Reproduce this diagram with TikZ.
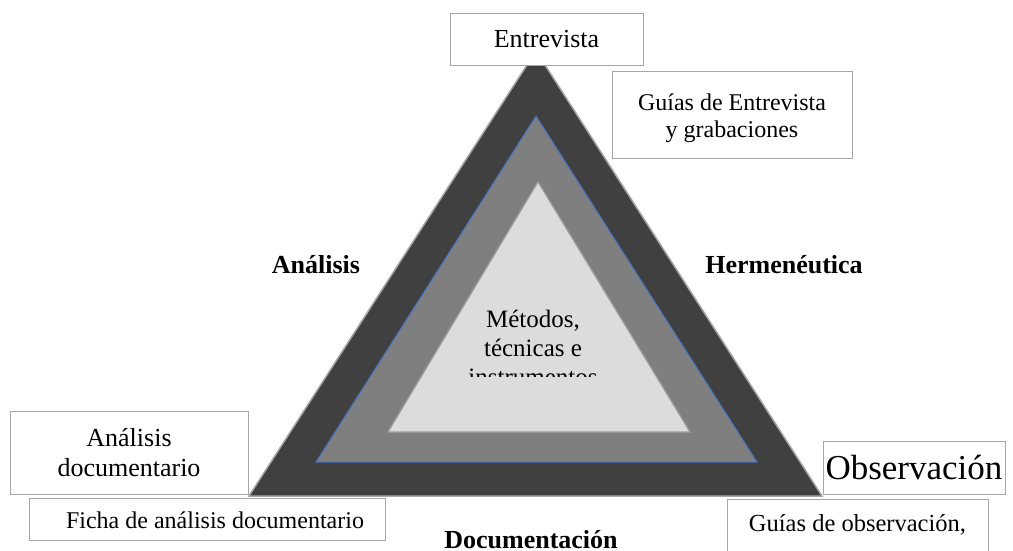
\documentclass[tikz,border=0pt]{standalone}
\usepackage{fontspec}
\setmainfont{Liberation Serif}
\definecolor{outerfill}{HTML}{404040}
\definecolor{outeredge}{HTML}{A6A6A6}
\definecolor{midfill}{HTML}{7F7F7F}
\definecolor{midedge}{HTML}{4472C4}
\definecolor{innerfill}{HTML}{DCDCDC}
\definecolor{inneredge}{HTML}{A0A0A0}
\definecolor{boxgray}{HTML}{A6A6A6}
\begin{document}
\begin{tikzpicture}[x=1pt,y=-1pt,
  box/.style={draw=boxgray, line width=0.8pt, fill=white, inner sep=0pt, align=center},
  sidelabel/.style={font=\fontsize{26}{30}\selectfont\bfseries, inner sep=0pt, anchor=base}]
\useasboundingbox (0,0) rectangle (1013,551);
\fill[white] (0,0) rectangle (1013,551);
% triangle corners
\coordinate (oL) at (249,496); \coordinate (oR) at (822,496); \coordinate (oT) at (536,51);
\coordinate (mL) at (316,462); \coordinate (mR) at (757,462); \coordinate (mT) at (536,116);
\coordinate (iL) at (388,432); \coordinate (iR) at (690,432); \coordinate (iT) at (538,182);
\filldraw[fill=outerfill, draw=outeredge, line width=1.5pt, line join=miter] (oL) -- (oR) -- (oT) -- cycle;
\filldraw[fill=midfill, draw=midedge, line width=1pt] (mL) -- (mR) -- (mT) -- cycle;
\filldraw[fill=innerfill, draw=inneredge, line width=1.2pt] (iL) -- (iR) -- (iT) -- cycle;
% centre text, clipped
\begin{scope}
\clip (0,0) rectangle (1013,376);
\node[inner sep=0pt, anchor=north, align=center, font=\fontsize{25}{29}\selectfont] (centre) at (533,310) {Métodos,\\técnicas e\\instrumentos};
\end{scope}
% side labels
\node[sidelabel] (analisis) at (316,273) {Análisis};
\node[sidelabel] (herm) at (784,273) {Hermenéutica};
\node[sidelabel] (doc) at (531,548) {Documentación};
% boxes
\node[box, anchor=north, minimum width=193pt, text height=34pt, text depth=18pt, font=\fontsize{26}{30}\selectfont] (entrevista) at (546.5,13) {Entrevista};
\node[box, minimum width=240pt, minimum height=87pt, font=\fontsize{24}{27}\selectfont] (guiasent) at (732,114.5) {\\[-3pt]Guías de Entrevista\\y grabaciones};
\node[box, minimum width=238pt, minimum height=83pt, font=\fontsize{26}{30}\selectfont] (analdoc) at (129,452.5) {Análisis\\documentario};
\node[box, anchor=north, minimum width=356pt, text height=30pt, text depth=12pt, font=\fontsize{24}{27}\selectfont] (ficha) at (207,498) {\hspace*{16pt}Ficha de análisis documentario};
\node[box, anchor=north, minimum width=182pt, text height=38pt, text depth=15pt, font=\fontsize{35}{40}\selectfont] (obs) at (914,441) {Observación};
\node[box, anchor=north, minimum width=261pt, text height=32pt, text depth=50pt, font=\fontsize{24.5}{28}\selectfont] (guiasobs) at (857.5,499) {Guías de observación,};
\end{tikzpicture}
\end{document}
